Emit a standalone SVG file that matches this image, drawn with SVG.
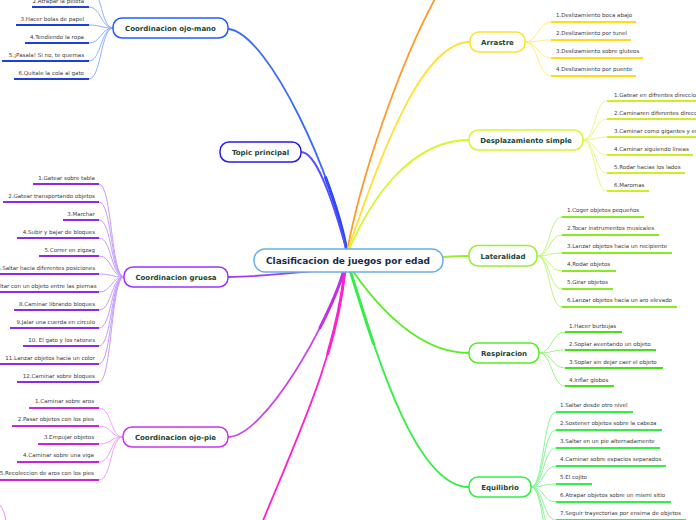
<svg xmlns="http://www.w3.org/2000/svg" width="696" height="520" viewBox="0 0 696 520">
<style>
  .node{fill:#fff;stroke-width:1.5}
  .main{font-family:"DejaVu Sans",Verdana,sans-serif;font-weight:bold;font-size:7px;fill:#1b4536;text-anchor:middle}
  .center{font-family:"DejaVu Sans",Verdana,sans-serif;font-weight:bold;font-size:9px;fill:#1a2b4c;text-anchor:middle}
  .lbl{font-family:"DejaVu Sans",Verdana,sans-serif;font-size:5.5px;fill:#3a3a3a}
  .l{text-anchor:end}
  .mc{fill:none;stroke-width:1.8;stroke-linecap:round}
  .th{fill:none;stroke-width:3;stroke-linecap:round;stroke-dasharray:30 100}
  .cc{fill:none;stroke-width:1}
  .ul{fill:none;stroke-width:1.8}
</style>
<rect width="696" height="520" fill="#fff"/>

<g id="connectors">
  <path class="mc" stroke="#3a6bff" d="M347 252 C335 180 270 35 229 29"/>
  <path class="th" stroke="#2a4af5" pathLength="100" d="M347 252 C335 180 270 35 229 29"/>
  <path class="mc" stroke="#5a4cff" stroke-width="1.4" d="M301 152 C315 152 330 190 347 252"/>
  <path class="mc" stroke="#9a40f5" d="M346 268 C300 272 260 277 228 277"/>
  <path class="mc" stroke="#cc44ee" d="M344 270 C330 320 265 437 228 437"/>
  <path class="th" stroke="#c030e8" pathLength="100" d="M344 270 C330 320 265 437 228 437"/>
  <path class="mc" stroke="#ff22cc" d="M345 270 C335 360 300 430 255 540"/>
  <path class="th" stroke="#ff22cc" pathLength="100" d="M345 270 C335 360 300 430 255 540"/>
  <path class="mc" stroke="#ff9a2a" d="M347 252 C360 180 400 60 440 -10"/>
  <path class="mc" stroke="#ffe033" d="M347 252 C370 190 415 42 470 42"/>
  <path class="mc" stroke="#d8f52a" d="M348 252 C370 200 410 140 469 140"/>
  <path class="mc" stroke="#99ee33" d="M348 261 C400 261 440 256 469 256"/>
  <path class="mc" stroke="#55ee22" d="M352 270 C380 310 420 353 469 353"/>
  <path class="mc" stroke="#33ee44" d="M350 270 C375 350 415 487 469 487"/>
  <path class="th" stroke="#33ee44" pathLength="100" d="M350 270 C375 350 415 487 469 487"/>

  <g stroke="#8fb0ff" class="cc">
    <path class="cc" d="M113 28 C101 28 102 -11 90 -11"/>
    <path class="cc" d="M113 28 C101 28 101 7 89 7"/>
    <path class="cc" d="M113 28 C101 28 101 25 89 25"/>
    <path class="cc" d="M113 28 C101 28 101 43 89 43"/>
    <path class="cc" d="M113 28 C101 28 101 61 89 61"/>
    <path class="cc" d="M113 28 C101 28 101 79 89 79"/>
  </g>
  <g stroke="#c49cff" class="cc">
    <path class="cc" d="M124 277 C111 277 112 184 99 184"/>
    <path class="cc" d="M124 277 C111 277 112 202 99 202"/>
    <path class="cc" d="M124 277 C111 277 112 220 99 220"/>
    <path class="cc" d="M124 277 C111 277 112 238 99 238"/>
    <path class="cc" d="M124 277 C111 277 112 256 99 256"/>
    <path class="cc" d="M124 277 C111 277 112 274 99 274"/>
    <path class="cc" d="M124 277 C111 277 112 292 99 292"/>
    <path class="cc" d="M124 277 C111 277 112 310 99 310"/>
    <path class="cc" d="M124 277 C111 277 112 328 99 328"/>
    <path class="cc" d="M124 277 C111 277 112 346 99 346"/>
    <path class="cc" d="M124 277 C111 277 112 364 99 364"/>
    <path class="cc" d="M124 277 C111 277 112 382 99 382"/>
  </g>
  <g stroke="#eea0ff" class="cc">
    <path class="cc" d="M123 437 C110 437 112 408 99 408"/>
    <path class="cc" d="M123 437 C110 437 112 426 99 426"/>
    <path class="cc" d="M123 437 C110 437 112 444 99 444"/>
    <path class="cc" d="M123 437 C110 437 112 462 99 462"/>
    <path class="cc" d="M123 437 C110 437 112 480 99 480"/>
  </g>
  <path class="cc" stroke="#f090f0" d="M0 505 C3 509 5 514 6 521"/>
  <g stroke="#ffec80" class="cc">
    <path class="cc" d="M525 42 C538 42 538 22 551 22"/>
    <path class="cc" d="M525 42 C538 42 538 40 551 40"/>
    <path class="cc" d="M525 42 C538 42 538 58 551 58"/>
    <path class="cc" d="M525 42 C538 42 538 76 551 76"/>
  </g>
  <g stroke="#e6fa80" class="cc">
    <path class="cc" d="M583 140 C595 140 595 101 607 101"/>
    <path class="cc" d="M583 140 C595 140 595 119 607 119"/>
    <path class="cc" d="M583 140 C595 140 595 137 607 137"/>
    <path class="cc" d="M583 140 C595 140 595 155 607 155"/>
    <path class="cc" d="M583 140 C595 140 595 173 607 173"/>
    <path class="cc" d="M583 140 C595 140 595 191 607 191"/>
  </g>
  <g stroke="#c0f580" class="cc">
    <path class="cc" d="M537 256 C550 256 549 217 562 217"/>
    <path class="cc" d="M537 256 C550 256 549 235 562 235"/>
    <path class="cc" d="M537 256 C550 256 549 253 562 253"/>
    <path class="cc" d="M537 256 C550 256 549 271 562 271"/>
    <path class="cc" d="M537 256 C550 256 549 289 562 289"/>
    <path class="cc" d="M537 256 C550 256 549 307 562 307"/>
  </g>
  <g stroke="#99f580" class="cc">
    <path class="cc" d="M539 353 C552 353 552 332 565 332"/>
    <path class="cc" d="M539 353 C552 353 552 350 565 350"/>
    <path class="cc" d="M539 353 C552 353 552 368 565 368"/>
    <path class="cc" d="M539 353 C552 353 552 386 565 386"/>
  </g>
  <g stroke="#88f598" class="cc">
    <path class="cc" d="M531 487 C544 487 543 412 556 412"/>
    <path class="cc" d="M531 487 C544 487 543 430 556 430"/>
    <path class="cc" d="M531 487 C544 487 543 448 556 448"/>
    <path class="cc" d="M531 487 C544 487 543 466 556 466"/>
    <path class="cc" d="M531 487 C544 487 543 484 556 484"/>
    <path class="cc" d="M531 487 C544 487 543 502 556 502"/>
    <path class="cc" d="M531 487 C544 487 543 520 556 520"/>
    <path class="cc" d="M531 487 C544 487 543 538 556 538"/>
    <path class="cc" d="M531 487 C544 487 543 556 556 556"/>
  </g>
</g>

<g id="central">
  <rect class="node" x="254" y="249" width="189" height="23" rx="11" stroke="#6aaee6"/>
  <text class="center" x="348" y="264.2">Clasificacion de juegos por edad</text>
</g>

<g id="topic-principal">
  <rect class="node" x="220" y="142" width="81" height="20" rx="9" stroke="#2a1ae6"/>
  <text class="main" x="260.5" y="154.5">Topic principal</text>
</g>

<g id="coord-ojo-mano">
  <rect class="node" x="113" y="18" width="115" height="20" rx="9" stroke="#1f5bff"/>
  <text class="main" x="170.5" y="30.5">Coordinacion ojo-mano</text>
  <g stroke="#1f3fd6" class="ul">
    <line x1="32" y1="7" x2="89" y2="7"/>
    <line x1="16" y1="25" x2="89" y2="25"/>
    <line x1="25" y1="43" x2="89" y2="43"/>
    <line x1="2" y1="61" x2="89" y2="61"/>
    <line x1="14" y1="79" x2="89" y2="79"/>
  </g>
  <text class="lbl l" x="84" y="3">2.Atrapar la pelota</text>
  <text class="lbl l" x="84" y="21">3.Hacer bolas de papel</text>
  <text class="lbl l" x="84" y="39">4.Tendiendo la ropa</text>
  <text class="lbl l" x="84" y="57">5.¡Pasala! Si no, te quemas</text>
  <text class="lbl l" x="84" y="75">6.Quitale la cola al gato</text>
</g>

<g id="coord-gruesa">
  <rect class="node" x="124" y="267" width="104" height="20" rx="9" stroke="#9933ff"/>
  <text class="main" x="176" y="279.5">Coordinacion gruesa</text>
  <g stroke="#8a2be6" class="ul">
    <line x1="33" y1="184" x2="99" y2="184"/>
    <line x1="3" y1="202" x2="99" y2="202"/>
    <line x1="63" y1="220" x2="99" y2="220"/>
    <line x1="17" y1="238" x2="99" y2="238"/>
    <line x1="39" y1="256" x2="99" y2="256"/>
    <line x1="0" y1="274" x2="99" y2="274"/>
    <line x1="0" y1="292" x2="99" y2="292"/>
    <line x1="14" y1="310" x2="99" y2="310"/>
    <line x1="10" y1="328" x2="99" y2="328"/>
    <line x1="23" y1="346" x2="99" y2="346"/>
    <line x1="0" y1="364" x2="99" y2="364"/>
    <line x1="17" y1="382" x2="99" y2="382"/>
  </g>
  <text class="lbl l" x="95" y="180">1.Gatear sobre tabla</text>
  <text class="lbl l" x="95" y="198">2.Gatear transportando objetos</text>
  <text class="lbl l" x="95" y="216">3.Marchar</text>
  <text class="lbl l" x="95" y="234">4.Subir y bajar de bloques</text>
  <text class="lbl l" x="95" y="252">5.Correr en zigzag</text>
  <text class="lbl l" x="95" y="270">6.Saltar hacia diferentes posiciones</text>
  <text class="lbl l" x="96.5" y="288">7.Saltar con un objeto entre las piernas</text>
  <text class="lbl l" x="95" y="306">8.Caminar librando bloques</text>
  <text class="lbl l" x="95" y="324">9.Jalar una cuerda en circulo</text>
  <text class="lbl l" x="95" y="342">10. El gato y los ratones</text>
  <text class="lbl l" x="95" y="360">11.Lanzar objetos hacia un color</text>
  <text class="lbl l" x="95" y="378">12.Caminar sobre bloques</text>
</g>

<g id="coord-ojo-pie">
  <rect class="node" x="123" y="427" width="105" height="20" rx="9" stroke="#cc33ee"/>
  <text class="main" x="175.5" y="439.5">Coordinacion ojo-pie</text>
  <g stroke="#cc22dd" class="ul">
    <line x1="29" y1="408" x2="99" y2="408"/>
    <line x1="12" y1="426" x2="99" y2="426"/>
    <line x1="38" y1="444" x2="99" y2="444"/>
    <line x1="17" y1="462" x2="99" y2="462"/>
    <line x1="0" y1="480" x2="99" y2="480"/>
  </g>
  <text class="lbl l" x="94" y="403">1.Caminar sobre aros</text>
  <text class="lbl l" x="94" y="421">2.Pasar objetos con los pies</text>
  <text class="lbl l" x="94" y="439">3.Empujar objetos</text>
  <text class="lbl l" x="94" y="457">4.Caminar sobre una viga</text>
  <text class="lbl l" x="94" y="475">5.Recoleccion de aros con los pies</text>
</g>

<g id="arrastre">
  <rect class="node" x="470" y="32" width="55" height="20" rx="9" stroke="#ffe22a"/>
  <text class="main" x="497.5" y="44.5">Arrastre</text>
  <g stroke="#ffdd11" class="ul">
    <line x1="551" y1="22" x2="636" y2="22"/>
    <line x1="551" y1="40" x2="631" y2="40"/>
    <line x1="551" y1="58" x2="643" y2="58"/>
    <line x1="551" y1="76" x2="636" y2="76"/>
  </g>
  <text class="lbl" x="556" y="17">1.Deslizamiento boca abajo</text>
  <text class="lbl" x="556" y="35">2.Deslizamiento por tunel</text>
  <text class="lbl" x="556" y="53">3.Deslizamiento sobre gluteos</text>
  <text class="lbl" x="556" y="71">4.Deslizamiento por puente</text>
</g>

<g id="desplazamiento-simple">
  <rect class="node" x="469" y="130" width="114" height="20" rx="9" stroke="#d8f52a"/>
  <text class="main" x="526" y="142.5">Desplazamiento simple</text>
  <g stroke="#ccee22" class="ul">
    <line x1="607" y1="101" x2="700" y2="101"/>
    <line x1="607" y1="119" x2="700" y2="119"/>
    <line x1="607" y1="137" x2="700" y2="137"/>
    <line x1="607" y1="155" x2="693" y2="155"/>
    <line x1="607" y1="173" x2="685" y2="173"/>
    <line x1="607" y1="191" x2="649" y2="191"/>
  </g>
  <text class="lbl" x="614" y="97">1.Gatear en difrentes direcciones</text>
  <text class="lbl" x="614" y="115">2.Caminaren diferentes direcciones</text>
  <text class="lbl" x="614" y="133">3.Caminar como gigantes y enanos</text>
  <text class="lbl" x="614" y="151">4.Caminar siguiendo lineas</text>
  <text class="lbl" x="614" y="169">5.Rodar hacias los lados</text>
  <text class="lbl" x="614" y="187">6.Maromas</text>
</g>

<g id="lateralidad">
  <rect class="node" x="469" y="245.5" width="68" height="20.5" rx="9" stroke="#99ee33"/>
  <text class="main" x="503" y="258.5">Lateralidad</text>
  <g stroke="#88ea22" class="ul">
    <line x1="562" y1="217" x2="644" y2="217"/>
    <line x1="562" y1="235" x2="659" y2="235"/>
    <line x1="562" y1="253" x2="672" y2="253"/>
    <line x1="562" y1="271" x2="616" y2="271"/>
    <line x1="562" y1="289" x2="613" y2="289"/>
    <line x1="562" y1="307" x2="677" y2="307"/>
  </g>
  <text class="lbl" x="567" y="212">1.Coger objetos pequeños</text>
  <text class="lbl" x="567" y="230">2.Tocar instrumentos musicales</text>
  <text class="lbl" x="567" y="248">3.Lanzar objetos hacia un recipiente</text>
  <text class="lbl" x="567" y="266">4.Rodar objetos</text>
  <text class="lbl" x="567" y="284">5.Girar objetos</text>
  <text class="lbl" x="567" y="302">6.Lanzar objetos hacia un aro elevado</text>
</g>

<g id="respiracion">
  <rect class="node" x="469" y="343" width="70" height="20" rx="9" stroke="#55ee22"/>
  <text class="main" x="504" y="355.5">Respiracion</text>
  <g stroke="#44e21a" class="ul">
    <line x1="565" y1="332" x2="622" y2="332"/>
    <line x1="565" y1="350" x2="656" y2="350"/>
    <line x1="565" y1="368" x2="663" y2="368"/>
    <line x1="565" y1="386" x2="614" y2="386"/>
  </g>
  <text class="lbl" x="569" y="328">1.Hacer burbujas</text>
  <text class="lbl" x="569" y="346">2.Soplar aventando un objeto</text>
  <text class="lbl" x="569" y="364">3.Soplar sin dejar caer el objeto</text>
  <text class="lbl" x="569" y="382">4.Inflar globos</text>
</g>

<g id="equilibrio">
  <rect class="node" x="469" y="477" width="62" height="20" rx="9" stroke="#33ee44"/>
  <text class="main" x="500" y="489.5">Equilibrio</text>
  <g stroke="#33ee44" class="ul">
    <line x1="556" y1="412" x2="633" y2="412"/>
    <line x1="556" y1="430" x2="662" y2="430"/>
    <line x1="556" y1="448" x2="660" y2="448"/>
    <line x1="556" y1="466" x2="666" y2="466"/>
    <line x1="556" y1="484" x2="592" y2="484"/>
    <line x1="556" y1="502" x2="671" y2="502"/>
    <line x1="556" y1="520" x2="686" y2="520"/>
  </g>
  <text class="lbl" x="560" y="407">1.Saltar desde otro nivel</text>
  <text class="lbl" x="560" y="425">2.Sostener objetos sobre la cabeza</text>
  <text class="lbl" x="560" y="443">3.Saltar en un pie alternadamente</text>
  <text class="lbl" x="560" y="461">4.Caminar sobre espacios separados</text>
  <text class="lbl" x="560" y="479">5.El cojito</text>
  <text class="lbl" x="560" y="497">6.Atrapar objetos sobre un mismi sitio</text>
  <text class="lbl" x="560" y="515">7.Seguir trayectorias por ensima de objetos</text>
</g>
</svg>
